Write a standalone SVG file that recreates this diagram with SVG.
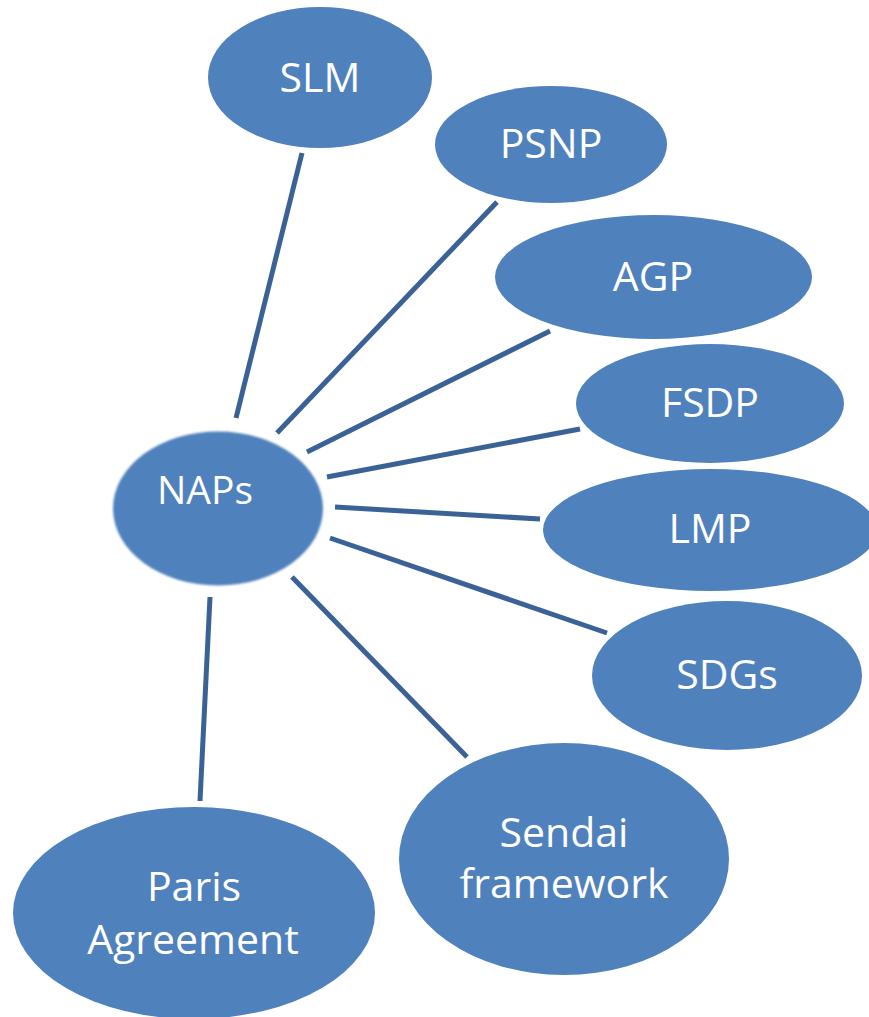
<svg xmlns="http://www.w3.org/2000/svg" width="869" height="1017" viewBox="0 0 869 1017">
  <style>
    .node { fill: #4f81bd; }
    .lbl { fill: #ffffff; font-family: "Open Sans", "Noto Sans", sans-serif; font-size: 41px; text-anchor: middle; }
    .conn line { stroke: #3b6296; stroke-width: 5; stroke-linecap: butt; }
  </style>
  <defs>
    <filter id="soft" x="-10%" y="-10%" width="120%" height="120%">
      <feGaussianBlur stdDeviation="0.8"/>
    </filter>
  </defs>
  <rect width="869" height="1017" fill="#ffffff"/>
  <g id="connectors" class="conn">
    <line x1="302" y1="153" x2="236" y2="418"/>
    <line x1="497" y1="202" x2="277" y2="433"/>
    <line x1="550" y1="331" x2="307" y2="452"/>
    <line x1="580" y1="429" x2="327" y2="477"/>
    <line x1="540" y1="519" x2="335" y2="507"/>
    <line x1="607" y1="633" x2="330" y2="538"/>
    <line x1="467" y1="757" x2="292" y2="577"/>
    <line x1="210" y1="597" x2="200" y2="801"/>
  </g>
  <g id="node-naps">
    <ellipse class="node" cx="218" cy="508.5" rx="105" ry="77" filter="url(#soft)"/>
    <text class="lbl" x="205" y="504" style="font-size:39px">NAPs</text>
  </g>
  <g id="node-slm">
    <ellipse class="node" cx="320" cy="77.5" rx="112" ry="70.5"/>
    <text class="lbl" x="320" y="92">SLM</text>
  </g>
  <g id="node-psnp">
    <ellipse class="node" cx="551" cy="144.5" rx="116" ry="58.5"/>
    <text class="lbl" x="551" y="158">PSNP</text>
  </g>
  <g id="node-agp">
    <ellipse class="node" cx="653.5" cy="277" rx="158.5" ry="62"/>
    <text class="lbl" x="653" y="291">AGP</text>
  </g>
  <g id="node-fsdp">
    <ellipse class="node" cx="710" cy="403.5" rx="134" ry="59.5"/>
    <text class="lbl" x="710" y="417">FSDP</text>
  </g>
  <g id="node-lmp">
    <ellipse class="node" cx="710" cy="530" rx="167" ry="61"/>
    <text class="lbl" x="710" y="543">LMP</text>
  </g>
  <g id="node-sdgs">
    <ellipse class="node" cx="727" cy="675.5" rx="135" ry="74.5"/>
    <text class="lbl" x="727" y="689">SDGs</text>
  </g>
  <g id="node-sendai">
    <ellipse class="node" cx="564" cy="859" rx="165" ry="116"/>
    <text class="lbl" x="564" y="847">Sendai</text>
    <text class="lbl" x="564" y="898">framework</text>
  </g>
  <g id="node-paris">
    <ellipse class="node" cx="194" cy="913" rx="181" ry="106"/>
    <text class="lbl" x="194" y="901">Paris</text>
    <text class="lbl" x="193" y="954">Agreement</text>
  </g>
</svg>
